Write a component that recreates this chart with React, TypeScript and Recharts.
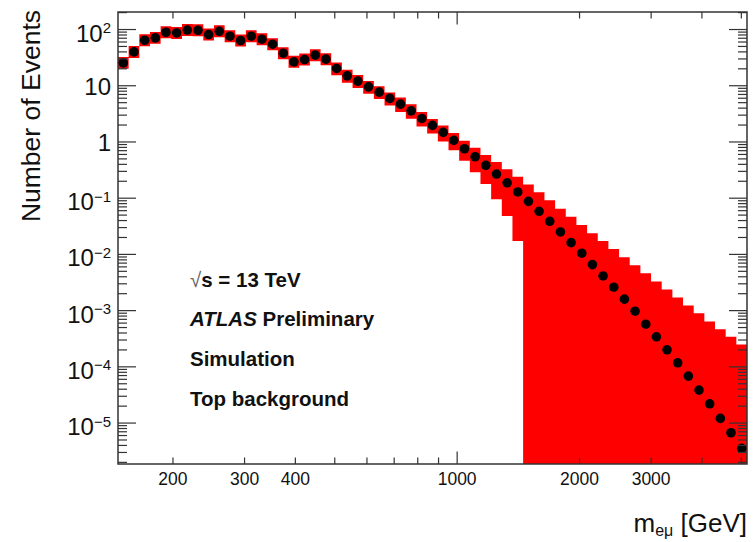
import React from 'react';
import { ComposedChart, Area, Scatter, XAxis, YAxis, ReferenceArea } from 'recharts';

// ---------------- data ----------------
// bin edges in m_eμ [GeV]
const BIN_EDGES = [
  146.5, 155.6, 165.3, 175.6, 186.5, 198.1, 210.5, 223.6, 237.5, 252.3,
  268.0, 284.6, 302.3, 321.2, 341.2, 362.4, 384.9, 408.9, 434.3, 461.4,
  490.1, 520.6, 553.0, 587.4, 624.0, 662.8, 704.0, 747.9, 794.4, 843.8,
  896.4, 952.2, 1011.4, 1074.4, 1141.2, 1212.3, 1287.7, 1367.8, 1453.0, 1543.4,
  1639.5, 1741.5, 1849.9, 1965.0, 2087.3, 2217.2, 2355.2, 2501.8, 2657.5, 2822.9,
  2998.6, 3185.2, 3383.4, 3594.0, 3817.7, 4055.2, 4307.6, 4575.7, 4860.5, 5163.0,
];

// number of events per bin (black points)
const EVENTS = [
  25.5, 40, 64.5, 71, 89.5, 87, 98, 97, 81.5, 93,
  76, 63.8, 76, 67.3, 54.8, 37.9, 26.6, 29.3, 35, 29.7,
  20.3, 15, 12.1, 9.55, 7.7, 5.95, 4.71, 3.58, 2.62, 1.97,
  1.48, 1.07, 0.757, 0.546, 0.384, 0.269, 0.188, 0.129, 0.0879, 0.0585,
  0.0388, 0.0251, 0.0162, 0.0105, 0.00658, 0.00414, 0.00261, 0.0016, 9.77e-4, 5.74e-4,
  3.42e-4, 2.01e-4, 1.18e-4, 6.85e-5, 3.86e-5, 2.2e-5, 1.21e-5, 6.73e-6, 3.54e-6,
];

// uncertainty band (red boxes): upper edge
const BAND_HIGH = [
  32.6, 51.1, 82.4, 90.7, 114, 111, 125, 124, 104, 119,
  97, 81.5, 97, 86, 70, 48.4, 34, 37.4, 44.7, 38,
  25.9, 19.2, 15.5, 12.2, 9.8, 7.6, 6.15, 4.67, 3.42, 2.57,
  1.97, 1.45, 1.05, 0.789, 0.585, 0.439, 0.326, 0.241, 0.176, 0.127,
  0.0917, 0.065, 0.0469, 0.0334, 0.0238, 0.0173, 0.0125, 0.0089, 0.0064, 0.00462,
  0.00328, 0.00237, 0.00171, 0.00123, 9.0e-4, 6.4e-4, 4.68e-4, 3.42e-4, 2.49e-4,
];

// uncertainty band: lower edge (0 = down to zero)
const BAND_LOW = [
  20, 31.3, 50.5, 55.6, 70, 68, 76.7, 75.9, 63.8, 72.8,
  59.5, 49.9, 59.5, 52.7, 42.9, 29.7, 20.8, 22.9, 27.4, 23.2,
  15.3, 11.3, 9.1, 7.2, 5.8, 4.47, 3.4, 2.58, 1.89, 1.42,
  1.02, 0.711, 0.463, 0.288, 0.179, 0.0955, 0.0482, 0.0173, 0, 0,
  0, 0, 0, 0, 0, 0, 0, 0, 0, 0,
  0, 0, 0, 0, 0, 0, 0, 0, 0,
];

const X_TICKS = [200, 300, 400, 500, 600, 700, 800, 900, 1000, 2000, 3000, 4000, 5000];
const X_TICK_LABELS = [200, 300, 400, 1000, 2000, 3000];
const X_DECADE_TICKS = [1000];

const Y_MAJOR = [1e-5, 1e-4, 1e-3, 1e-2, 1e-1, 1, 10, 100];
const Y_MAJOR_LABELS: [string, string][] = [
  ['10', '\u22125'], ['10', '\u22124'], ['10', '\u22123'], ['10', '\u22122'],
  ['10', '\u22121'], ['1', ''], ['10', ''], ['10', '2'],
];

const X_DOMAIN = [146.5, 5163];
const Y_DOMAIN = [1.87e-6, 205];
const BAND_FLOOR = 1e-8;

// ---------------- layout ----------------
const W = 755;
const H = 542;
const PLOT = { left: 118, right: 747, top: 12, bottom: 464 };
const Y_AXIS_W = 100;
const X_AXIS_H = 40;
const FONT = '"Liberation Sans", Arial, Helvetica, sans-serif';
const AXIS_COLOR = '#333';

// ---------------- derived tables ----------------
const bandRows = BIN_EDGES.slice(0, -1).flatMap((lo, i) => {
  const range = [BAND_LOW[i] > 0 ? BAND_LOW[i] : BAND_FLOOR, BAND_HIGH[i]];
  return [
    { x: lo, band: range },
    { x: BIN_EDGES[i + 1], band: range },
  ];
});

const points = EVENTS.map((v, i) => ({
  x: Math.sqrt(BIN_EDGES[i] * BIN_EDGES[i + 1]),
  y: v,
}));

const Y_TICKS: number[] = [];
for (let e = -6; e <= 2; e++) {
  for (let m = 1; m <= 9; m++) {
    const v = Number((m * Math.pow(10, e)).toPrecision(3));
    if (v >= Y_DOMAIN[0] && v <= Y_DOMAIN[1]) Y_TICKS.push(v);
  }
}

const majorIndex = (v: number) => Y_MAJOR.findIndex((m) => Math.abs(m - v) / m < 1e-6);

const YTick = (props: any) => {
  const { y, payload } = props;
  const idx = majorIndex(payload.value);
  const major = idx >= 0;
  const len = major ? 18 : 9;
  const lab = major ? Y_MAJOR_LABELS[idx] : null;
  return (
    <g>
      <line x1={PLOT.left} x2={PLOT.left + len} y1={y} y2={y} stroke={AXIS_COLOR} strokeWidth={1.2} />
      <line x1={PLOT.right - len} x2={PLOT.right} y1={y} y2={y} stroke={AXIS_COLOR} strokeWidth={1.2} />
      {lab && (
        <text
          x={111}
          y={y + (lab[1] ? 12 : 9.5)}
          textAnchor="end"
          fontSize={24}
          fontFamily={FONT}
          fill="#111"
        >
          <tspan>{lab[0]}</tspan>
          {lab[1] && (
            <tspan dy={-8.5} fontSize={15}>
              {lab[1]}
            </tspan>
          )}
        </text>
      )}
    </g>
  );
};

const XTick = (props: any) => {
  const { x, payload } = props;
  const v = payload.value;
  const len = X_DECADE_TICKS.includes(v) ? 12.5 : 6.5;
  const labelled = X_TICK_LABELS.includes(v);
  return (
    <g>
      <line x1={x} x2={x} y1={PLOT.bottom} y2={PLOT.bottom - len} stroke={AXIS_COLOR} strokeWidth={1.2} />
      <line x1={x} x2={x} y1={PLOT.top} y2={PLOT.top + len} stroke={AXIS_COLOR} strokeWidth={1.2} />
      {labelled && (
        <text x={x} y={PLOT.bottom + 21} textAnchor="middle" fontSize={17.5} fontFamily={FONT} fill="#111">
          {v}
        </text>
      )}
    </g>
  );
};

const Dot = (p: any) => <circle cx={p.cx} cy={p.cy} r={4.8} fill="#000" />;

export default function App() {
  return (
    <div style={{ position: 'fixed', left: 0, top: 0, width: W, height: H, background: '#fff' }}>
      <ComposedChart
        width={W}
        height={H}
        data={bandRows}
        margin={{
          top: PLOT.top,
          right: W - PLOT.right,
          left: PLOT.left - Y_AXIS_W,
          bottom: H - PLOT.bottom - X_AXIS_H,
        }}
      >
        <Area
          dataKey="band"
          type="linear"
          stroke="none"
          fill="#ff0000"
          fillOpacity={1}
          dot={false}
          activeDot={false}
          isAnimationActive={false}
        />
        <Scatter data={points} fill="#000" shape={Dot} isAnimationActive={false} />
        <ReferenceArea
          x1={X_DOMAIN[0]}
          x2={X_DOMAIN[1]}
          y1={Y_DOMAIN[0]}
          y2={Y_DOMAIN[1]}
          fill="none"
          fillOpacity={0}
          stroke={AXIS_COLOR}
          strokeWidth={1.5}
          ifOverflow="visible"
        />
        <XAxis
          dataKey="x"
          type="number"
          scale="log"
          domain={X_DOMAIN}
          allowDataOverflow
          ticks={X_TICKS}
          interval={0}
          tick={(p: any) => <XTick {...p} />}
          tickLine={false}
          axisLine={false}
          height={X_AXIS_H}
        />
        <YAxis
          dataKey="y"
          type="number"
          scale="log"
          domain={Y_DOMAIN}
          allowDataOverflow
          ticks={Y_TICKS}
          interval={0}
          tick={(p: any) => <YTick {...p} />}
          tickLine={false}
          axisLine={false}
          width={Y_AXIS_W}
        />
      </ComposedChart>
      <svg
        width={W}
        height={H}
        style={{ position: 'absolute', left: 0, top: 0, pointerEvents: 'none' }}
        fontFamily={FONT}
      >
        <text x={-10} y={40} transform="rotate(-90)" textAnchor="end" fontSize={26.5} fill="#111">
          Number of Events
        </text>
        <text x={PLOT.right} y={532} textAnchor="end" fontSize={26} fill="#111">
          m
          <tspan fontSize={16} dy={4}>
            eμ
          </tspan>
          <tspan dy={-4}> [GeV]</tspan>
        </text>
        <g fontWeight="bold" fontSize={20.5} fill="#111">
          <text x={190} y={287}>
            <tspan fontWeight="normal" fill="#666">√</tspan>
            <tspan>s = 13 TeV</tspan>
          </text>
          <text x={190} y={325.5}>
            <tspan fontStyle="italic">ATLAS</tspan>
            <tspan> Preliminary</tspan>
          </text>
          <text x={190} y={366}>
            Simulation
          </text>
          <text x={190} y={405.5}>
            Top background
          </text>
        </g>
      </svg>
    </div>
  );
}
